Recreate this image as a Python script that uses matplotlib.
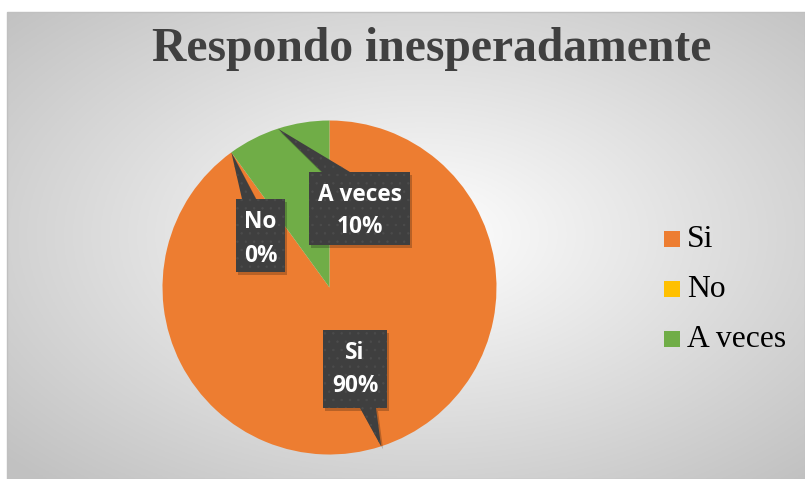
import numpy as np
import matplotlib
matplotlib.use("Agg")
import matplotlib.pyplot as plt
from matplotlib.patches import Polygon, Rectangle

# ---- data ----
categories = ["Si", "No", "A veces"]
values = [90, 0, 10]
percent_labels = ["90%", "0%", "10%"]
colors = ["#ED7D31", "#FFC000", "#70AD47"]
title = "Respondo inesperadamente"

W, H = 805, 479
fig = plt.figure(figsize=(W / 100, H / 100), dpi=100)
fig.patch.set_facecolor("white")

# ---- background chart area with radial gradient ----
bg = fig.add_axes([0, 0, 1, 1])
bg.set_xlim(0, W)
bg.set_ylim(H, 0)
bg.axis("off")
x0a, y0a, x1a, y1a = 7, 12, W, H
gx = np.linspace(x0a, x1a, 400)
gy = np.linspace(y0a, y1a, 240)
GX, GY = np.meshgrid(gx, gy)
cx, cy = 420, 235
t = np.sqrt(((GX - cx) / 560) ** 2 + ((GY - cy) / 330) ** 2)
t = np.clip(t, 0, 1)
c_in = np.array([1.0, 1.0, 1.0])
c_out = np.array([0.76, 0.76, 0.76])
img = c_in[None, None, :] * (1 - t[..., None]) + c_out[None, None, :] * t[..., None]
bg.imshow(img, extent=[x0a, x1a, y1a, y0a], aspect="auto", zorder=0)
bg.add_patch(Rectangle((x0a, y0a), x1a - x0a, y1a - y0a, fill=False,
                       edgecolor="#c0c0c0", lw=1, zorder=1))

# title
bg.text(432, 61, title, fontsize=34.3, fontweight="bold", family="Liberation Serif",
        color="#404040", ha="center", va="baseline", zorder=5)

# ---- pie ----
pcx, pcy, R = 329.5, 287.5, 167
pie_ax = fig.add_axes([(pcx - R) / W, (H - pcy - R) / H, 2 * R / W, 2 * R / H])
wedges, _ = pie_ax.pie(values, colors=colors, startangle=90, counterclock=False,
                       radius=1, wedgeprops=dict(linewidth=0))
pie_ax.set_xlim(-1, 1)
pie_ax.set_ylim(-1, 1)
pie_ax.set_aspect("auto")
pie_ax.axis("off")

# ---- data label callouts ----
over = fig.add_axes([0, 0, 1, 1])
over.set_xlim(0, W)
over.set_ylim(H, 0)
over.axis("off")
over.patch.set_alpha(0)


def tip_point(w):
    ang = np.deg2rad((w.theta1 + w.theta2) / 2)
    dx, dy = pie_ax.transData.transform((np.cos(ang), np.sin(ang)))
    return dx, H - dy


# box layout: (x0, y0, x1, y1, side, base_x0, base_x1, baseline1, baseline2)
boxes = [
    (323, 330, 387, 408, "bottom", 360, 376, 359, 392),
    (236, 199, 285, 272, "top", 242, 256, 228, 262),
    (309, 172, 410, 245, "top", 322, 350, 201, 233),
]

plt.rcParams["hatch.linewidth"] = 0.5
fig.canvas.draw()
for i, (bx0, by0, bx1, by1, side, p0, p1, b1, b2) in enumerate(boxes):
    tx, ty = tip_point(wedges[i])
    if side == "top":
        pts = [(bx0, by0), (p0, by0), (tx, ty), (p1, by0), (bx1, by0), (bx1, by1), (bx0, by1)]
    else:
        pts = [(bx0, by0), (bx1, by0), (bx1, by1), (p1, by1), (tx, ty), (p0, by1), (bx0, by1)]
    shadow = Polygon([(x + 2, y + 3) for x, y in pts], closed=True, facecolor="#000000",
                     alpha=0.22, lw=0, zorder=3)
    over.add_patch(shadow)
    poly = Polygon(pts, closed=True, facecolor="#3f3f3f", edgecolor="#4c4c4c",
                   lw=0, hatch="..", zorder=4)
    over.add_patch(poly)
    xc = (bx0 + bx1) / 2
    over.text(xc, b1, categories[i], color="white", fontsize=16.3, fontweight="bold",
              family="Open Sans", ha="center", va="baseline", zorder=6)
    over.text(xc, b2, percent_labels[i], color="white", fontsize=16.3, fontweight="bold",
              family="Open Sans", ha="center", va="baseline", zorder=6)

# ---- legend ----
leg_y = [239, 289, 339]
for i, cat in enumerate(categories):
    over.add_patch(Rectangle((664, leg_y[i] - 8), 16, 16, facecolor=colors[i], lw=0, zorder=5))
    over.text(687, leg_y[i] + 8, cat, fontsize=22.8, family="Liberation Serif",
              color="#000000", ha="left", va="baseline", zorder=5)

fig.savefig("out.png", dpi=100)
